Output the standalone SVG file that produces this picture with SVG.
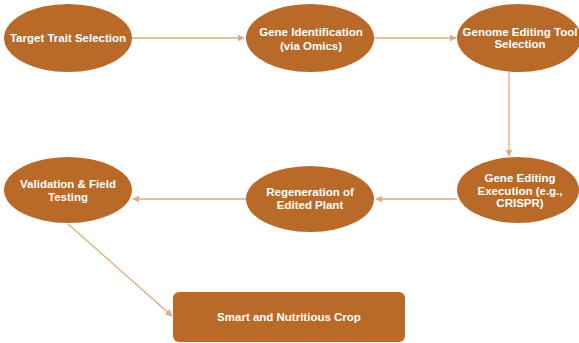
<svg xmlns="http://www.w3.org/2000/svg" width="579" height="343" viewBox="0 0 579 343">
<defs>
<style>
.n{fill:#B96A28;}
.t{font-family:"Liberation Sans",Arial,sans-serif;font-weight:bold;font-size:11.5px;fill:#ffffff;text-anchor:middle;}
.c{stroke:#E2AA7A;stroke-width:1.3;fill:none;marker-end:url(#ah);}
</style>
<marker id="ah" viewBox="0 0 10 10" refX="9" refY="5" markerWidth="7" markerHeight="7" markerUnits="userSpaceOnUse" orient="auto">
<path d="M0,0 L10,5 L0,10 z" fill="#E2AA7A"/>
</marker>
</defs>
<rect width="579" height="343" fill="#ffffff"/>
<g id="connectors">
<line class="c" x1="132" y1="38" x2="244" y2="38"/>
<line class="c" x1="374" y1="38" x2="456" y2="38"/>
<line class="c" x1="509" y1="72" x2="509" y2="156"/>
<line class="c" x1="457" y1="199" x2="376" y2="199"/>
<line class="c" x1="246" y1="199" x2="133" y2="199"/>
<line class="c" x1="68" y1="224" x2="172" y2="316"/>
</g>
<g id="n1"><ellipse class="n" cx="68" cy="38" rx="64" ry="34"/><text class="t" x="68" y="42">Target Trait Selection</text></g>
<g id="n2"><ellipse class="n" cx="310" cy="38" rx="64" ry="34"/><text class="t" x="311" y="36">Gene Identification</text><text class="t" x="311" y="50">(via Omics)</text></g>
<g id="n3"><ellipse class="n" cx="519" cy="38" rx="62" ry="34"/><text class="t" x="520" y="36">Genome Editing Tool</text><text class="t" x="520" y="48">Selection</text></g>
<g id="n4"><ellipse class="n" cx="518" cy="190" rx="61" ry="33"/><text class="t" x="520" y="182">Gene Editing</text><text class="t" x="520" y="195">Execution (e.g.,</text><text class="t" x="520" y="207">CRISPR)</text></g>
<g id="n5"><ellipse class="n" cx="310" cy="199" rx="64" ry="33"/><text class="t" x="310" y="196">Regeneration of</text><text class="t" x="310" y="209">Edited Plant</text></g>
<g id="n6"><ellipse class="n" cx="68" cy="190" rx="64" ry="33"/><text class="t" x="68" y="188">Validation &amp; Field</text><text class="t" x="68" y="201">Testing</text></g>
<g id="n7"><rect class="n" x="173" y="292" width="232" height="50" rx="6"/><text class="t" x="289" y="321">Smart and Nutritious Crop</text></g>
</svg>
